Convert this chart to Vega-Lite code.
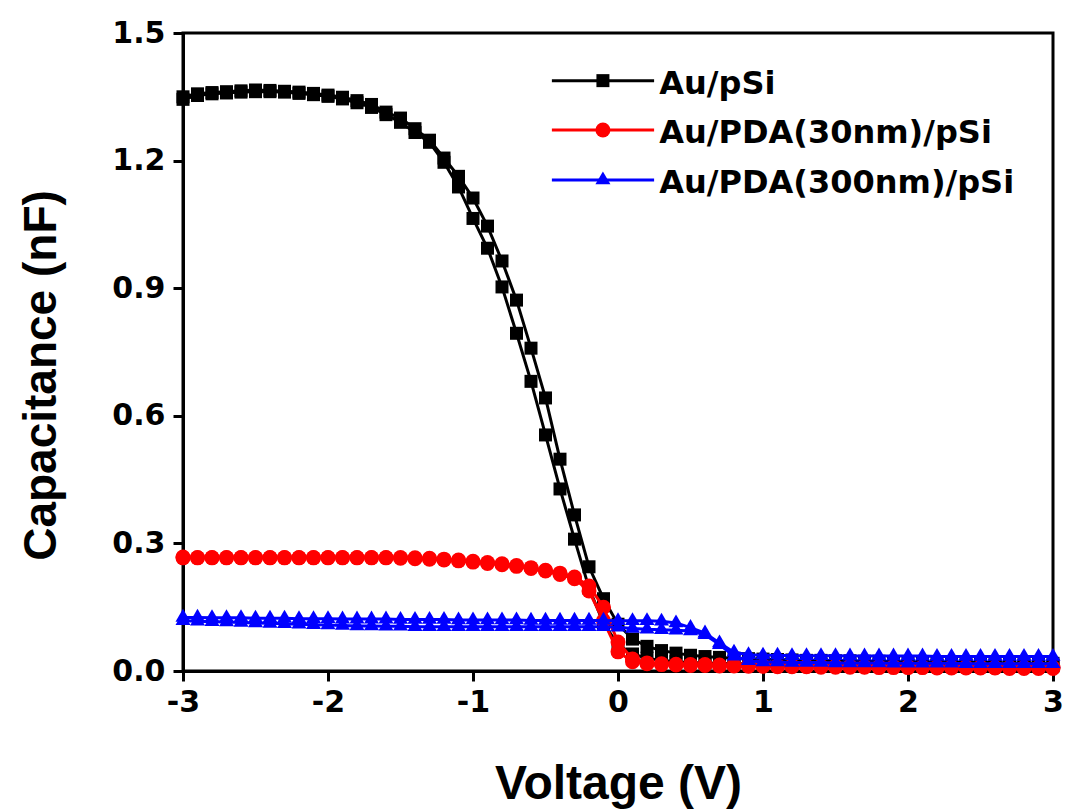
{
  "$schema": "https://vega.github.io/schema/vega-lite/v6.json",
  "width": 870,
  "height": 638,
  "autosize": {"type": "none"},
  "padding": {"left": 183, "top": 33, "right": 13, "bottom": 141},
  "background": "white",
  "config": {
    "view": {"stroke": "#000000", "strokeWidth": 3},
    "axis": {"domainColor": "#000000", "domainWidth": 3, "tickColor": "#000000", "tickWidth": 3, "tickSize": 10, "grid": false, "labelColor": "#000000", "labelFont": "DejaVu Sans", "labelFontWeight": "bold", "labelFontSize": 30, "titleColor": "#000000", "titleFont": "Liberation Sans", "titleFontWeight": "bold", "labelFlush": false, "labelOverlap": false},
    "axisX": {"labelPadding": 6, "titleFontSize": 48, "titleY": 127, "titleBaseline": "alphabetic"},
    "axisY": {"labelPadding": 8, "titleFontSize": 46, "titleX": -128, "titleY": 342, "titleAngle": -90, "titleBaseline": "alphabetic"}
  },
  "datasets": {
    "black": [
      {"b":"f","v":-3.0,"c":1.350},{"b":"f","v":-2.9,"c":1.357},{"b":"f","v":-2.8,"c":1.360},{"b":"f","v":-2.7,"c":1.362},{"b":"f","v":-2.6,"c":1.364},{"b":"f","v":-2.5,"c":1.366},{"b":"f","v":-2.4,"c":1.365},{"b":"f","v":-2.3,"c":1.363},{"b":"f","v":-2.2,"c":1.361},{"b":"f","v":-2.1,"c":1.358},{"b":"f","v":-2.0,"c":1.354},{"b":"f","v":-1.9,"c":1.349},{"b":"f","v":-1.8,"c":1.341},{"b":"f","v":-1.7,"c":1.332},{"b":"f","v":-1.6,"c":1.314},{"b":"f","v":-1.5,"c":1.300},{"b":"f","v":-1.4,"c":1.275},{"b":"f","v":-1.3,"c":1.248},{"b":"f","v":-1.2,"c":1.206},{"b":"f","v":-1.1,"c":1.163},{"b":"f","v":-1.0,"c":1.112},{"b":"f","v":-0.9,"c":1.046},{"b":"f","v":-0.8,"c":0.964},{"b":"f","v":-0.7,"c":0.872},{"b":"f","v":-0.6,"c":0.759},{"b":"f","v":-0.5,"c":0.642},{"b":"f","v":-0.4,"c":0.498},{"b":"f","v":-0.3,"c":0.367},{"b":"f","v":-0.2,"c":0.245},{"b":"f","v":-0.1,"c":0.170},{"b":"f","v":0.0,"c":0.110},{"b":"f","v":0.1,"c":0.075},{"b":"f","v":0.2,"c":0.058},{"b":"f","v":0.3,"c":0.048},{"b":"f","v":0.4,"c":0.042},{"b":"f","v":0.5,"c":0.037},{"b":"f","v":0.6,"c":0.034},{"b":"f","v":0.7,"c":0.032},{"b":"f","v":0.8,"c":0.030},{"b":"f","v":0.9,"c":0.029},{"b":"f","v":1.0,"c":0.028},{"b":"f","v":1.1,"c":0.027},{"b":"f","v":1.2,"c":0.026},{"b":"f","v":1.3,"c":0.025},{"b":"f","v":1.4,"c":0.025},{"b":"f","v":1.5,"c":0.024},{"b":"f","v":1.6,"c":0.024},{"b":"f","v":1.7,"c":0.023},{"b":"f","v":1.8,"c":0.023},{"b":"f","v":1.9,"c":0.022},{"b":"f","v":2.0,"c":0.022},{"b":"f","v":2.1,"c":0.021},{"b":"f","v":2.2,"c":0.021},{"b":"f","v":2.3,"c":0.021},{"b":"f","v":2.4,"c":0.020},{"b":"f","v":2.5,"c":0.020},{"b":"f","v":2.6,"c":0.020},{"b":"f","v":2.7,"c":0.019},{"b":"f","v":2.8,"c":0.019},{"b":"f","v":2.9,"c":0.019},{"b":"f","v":3.0,"c":0.018},
      {"b":"r","v":-3.0,"c":1.344},{"b":"r","v":-2.9,"c":1.353},{"b":"r","v":-2.8,"c":1.357},{"b":"r","v":-2.7,"c":1.359},{"b":"r","v":-2.6,"c":1.361},{"b":"r","v":-2.5,"c":1.362},{"b":"r","v":-2.4,"c":1.362},{"b":"r","v":-2.3,"c":1.361},{"b":"r","v":-2.2,"c":1.358},{"b":"r","v":-2.1,"c":1.355},{"b":"r","v":-2.0,"c":1.351},{"b":"r","v":-1.9,"c":1.345},{"b":"r","v":-1.8,"c":1.336},{"b":"r","v":-1.7,"c":1.325},{"b":"r","v":-1.6,"c":1.308},{"b":"r","v":-1.5,"c":1.290},{"b":"r","v":-1.4,"c":1.266},{"b":"r","v":-1.3,"c":1.243},{"b":"r","v":-1.2,"c":1.196},{"b":"r","v":-1.1,"c":1.138},{"b":"r","v":-1.0,"c":1.064},{"b":"r","v":-0.9,"c":0.994},{"b":"r","v":-0.8,"c":0.903},{"b":"r","v":-0.7,"c":0.794},{"b":"r","v":-0.6,"c":0.681},{"b":"r","v":-0.5,"c":0.555},{"b":"r","v":-0.4,"c":0.428},{"b":"r","v":-0.3,"c":0.310},{"b":"r","v":-0.2,"c":0.195},{"b":"r","v":-0.1,"c":0.112},{"b":"r","v":0.0,"c":0.062},{"b":"r","v":0.1,"c":0.040},{"b":"r","v":0.2,"c":0.030},{"b":"r","v":0.3,"c":0.025},{"b":"r","v":0.4,"c":0.022},{"b":"r","v":0.5,"c":0.020},{"b":"r","v":0.6,"c":0.019},{"b":"r","v":0.7,"c":0.018},{"b":"r","v":0.8,"c":0.017},{"b":"r","v":0.9,"c":0.017},{"b":"r","v":1.0,"c":0.016},{"b":"r","v":1.1,"c":0.016},{"b":"r","v":1.2,"c":0.016},{"b":"r","v":1.3,"c":0.015},{"b":"r","v":1.4,"c":0.015},{"b":"r","v":1.5,"c":0.015},{"b":"r","v":1.6,"c":0.014},{"b":"r","v":1.7,"c":0.014},{"b":"r","v":1.8,"c":0.014},{"b":"r","v":1.9,"c":0.014},{"b":"r","v":2.0,"c":0.013},{"b":"r","v":2.1,"c":0.013},{"b":"r","v":2.2,"c":0.013},{"b":"r","v":2.3,"c":0.013},{"b":"r","v":2.4,"c":0.013},{"b":"r","v":2.5,"c":0.012},{"b":"r","v":2.6,"c":0.012},{"b":"r","v":2.7,"c":0.012},{"b":"r","v":2.8,"c":0.012},{"b":"r","v":2.9,"c":0.012},{"b":"r","v":3.0,"c":0.012}
    ],
    "red": [
      {"b":"f","v":-3.0,"c":0.268},{"b":"f","v":-2.9,"c":0.267},{"b":"f","v":-2.8,"c":0.267},{"b":"f","v":-2.7,"c":0.267},{"b":"f","v":-2.6,"c":0.267},{"b":"f","v":-2.5,"c":0.267},{"b":"f","v":-2.4,"c":0.267},{"b":"f","v":-2.3,"c":0.267},{"b":"f","v":-2.2,"c":0.267},{"b":"f","v":-2.1,"c":0.267},{"b":"f","v":-2.0,"c":0.267},{"b":"f","v":-1.9,"c":0.267},{"b":"f","v":-1.8,"c":0.267},{"b":"f","v":-1.7,"c":0.267},{"b":"f","v":-1.6,"c":0.267},{"b":"f","v":-1.5,"c":0.267},{"b":"f","v":-1.4,"c":0.266},{"b":"f","v":-1.3,"c":0.265},{"b":"f","v":-1.2,"c":0.263},{"b":"f","v":-1.1,"c":0.261},{"b":"f","v":-1.0,"c":0.258},{"b":"f","v":-0.9,"c":0.255},{"b":"f","v":-0.8,"c":0.252},{"b":"f","v":-0.7,"c":0.248},{"b":"f","v":-0.6,"c":0.243},{"b":"f","v":-0.5,"c":0.237},{"b":"f","v":-0.4,"c":0.230},{"b":"f","v":-0.3,"c":0.221},{"b":"f","v":-0.2,"c":0.200},{"b":"f","v":-0.1,"c":0.150},{"b":"f","v":0.0,"c":0.068},{"b":"f","v":0.1,"c":0.028},{"b":"f","v":0.2,"c":0.019},{"b":"f","v":0.3,"c":0.017},{"b":"f","v":0.4,"c":0.016},{"b":"f","v":0.5,"c":0.015},{"b":"f","v":0.6,"c":0.015},{"b":"f","v":0.7,"c":0.014},{"b":"f","v":0.8,"c":0.013},{"b":"f","v":0.9,"c":0.013},{"b":"f","v":1.0,"c":0.012},{"b":"f","v":1.1,"c":0.012},{"b":"f","v":1.2,"c":0.012},{"b":"f","v":1.3,"c":0.011},{"b":"f","v":1.4,"c":0.011},{"b":"f","v":1.5,"c":0.011},{"b":"f","v":1.6,"c":0.011},{"b":"f","v":1.7,"c":0.010},{"b":"f","v":1.8,"c":0.010},{"b":"f","v":1.9,"c":0.010},{"b":"f","v":2.0,"c":0.010},{"b":"f","v":2.1,"c":0.009},{"b":"f","v":2.2,"c":0.009},{"b":"f","v":2.3,"c":0.009},{"b":"f","v":2.4,"c":0.009},{"b":"f","v":2.5,"c":0.009},{"b":"f","v":2.6,"c":0.008},{"b":"f","v":2.7,"c":0.008},{"b":"f","v":2.8,"c":0.008},{"b":"f","v":2.9,"c":0.008},{"b":"f","v":3.0,"c":0.008},
      {"b":"r","v":-3.0,"c":0.266},{"b":"r","v":-2.9,"c":0.266},{"b":"r","v":-2.8,"c":0.266},{"b":"r","v":-2.7,"c":0.266},{"b":"r","v":-2.6,"c":0.266},{"b":"r","v":-2.5,"c":0.266},{"b":"r","v":-2.4,"c":0.266},{"b":"r","v":-2.3,"c":0.266},{"b":"r","v":-2.2,"c":0.266},{"b":"r","v":-2.1,"c":0.266},{"b":"r","v":-2.0,"c":0.266},{"b":"r","v":-1.9,"c":0.266},{"b":"r","v":-1.8,"c":0.266},{"b":"r","v":-1.7,"c":0.266},{"b":"r","v":-1.6,"c":0.266},{"b":"r","v":-1.5,"c":0.265},{"b":"r","v":-1.4,"c":0.264},{"b":"r","v":-1.3,"c":0.263},{"b":"r","v":-1.2,"c":0.261},{"b":"r","v":-1.1,"c":0.259},{"b":"r","v":-1.0,"c":0.256},{"b":"r","v":-0.9,"c":0.253},{"b":"r","v":-0.8,"c":0.250},{"b":"r","v":-0.7,"c":0.246},{"b":"r","v":-0.6,"c":0.241},{"b":"r","v":-0.5,"c":0.235},{"b":"r","v":-0.4,"c":0.227},{"b":"r","v":-0.3,"c":0.217},{"b":"r","v":-0.2,"c":0.188},{"b":"r","v":-0.1,"c":0.118},{"b":"r","v":0.0,"c":0.045},{"b":"r","v":0.1,"c":0.022},{"b":"r","v":0.2,"c":0.017},{"b":"r","v":0.3,"c":0.015},{"b":"r","v":0.4,"c":0.014},{"b":"r","v":0.5,"c":0.013},{"b":"r","v":0.6,"c":0.013},{"b":"r","v":0.7,"c":0.012},{"b":"r","v":0.8,"c":0.012},{"b":"r","v":0.9,"c":0.011},{"b":"r","v":1.0,"c":0.011},{"b":"r","v":1.1,"c":0.010},{"b":"r","v":1.2,"c":0.010},{"b":"r","v":1.3,"c":0.010},{"b":"r","v":1.4,"c":0.009},{"b":"r","v":1.5,"c":0.009},{"b":"r","v":1.6,"c":0.009},{"b":"r","v":1.7,"c":0.009},{"b":"r","v":1.8,"c":0.008},{"b":"r","v":1.9,"c":0.008},{"b":"r","v":2.0,"c":0.008},{"b":"r","v":2.1,"c":0.008},{"b":"r","v":2.2,"c":0.007},{"b":"r","v":2.3,"c":0.007},{"b":"r","v":2.4,"c":0.007},{"b":"r","v":2.5,"c":0.007},{"b":"r","v":2.6,"c":0.007},{"b":"r","v":2.7,"c":0.006},{"b":"r","v":2.8,"c":0.006},{"b":"r","v":2.9,"c":0.006},{"b":"r","v":3.0,"c":0.006}
    ],
    "blue": [
      {"b":"f","v":-3.0,"c":0.126},{"b":"f","v":-2.9,"c":0.126},{"b":"f","v":-2.8,"c":0.125},{"b":"f","v":-2.7,"c":0.125},{"b":"f","v":-2.6,"c":0.125},{"b":"f","v":-2.5,"c":0.124},{"b":"f","v":-2.4,"c":0.124},{"b":"f","v":-2.3,"c":0.124},{"b":"f","v":-2.2,"c":0.123},{"b":"f","v":-2.1,"c":0.123},{"b":"f","v":-2.0,"c":0.123},{"b":"f","v":-1.9,"c":0.122},{"b":"f","v":-1.8,"c":0.122},{"b":"f","v":-1.7,"c":0.122},{"b":"f","v":-1.6,"c":0.122},{"b":"f","v":-1.5,"c":0.121},{"b":"f","v":-1.4,"c":0.121},{"b":"f","v":-1.3,"c":0.121},{"b":"f","v":-1.2,"c":0.121},{"b":"f","v":-1.1,"c":0.120},{"b":"f","v":-1.0,"c":0.120},{"b":"f","v":-0.9,"c":0.120},{"b":"f","v":-0.8,"c":0.120},{"b":"f","v":-0.7,"c":0.120},{"b":"f","v":-0.6,"c":0.119},{"b":"f","v":-0.5,"c":0.119},{"b":"f","v":-0.4,"c":0.119},{"b":"f","v":-0.3,"c":0.119},{"b":"f","v":-0.2,"c":0.119},{"b":"f","v":-0.1,"c":0.119},{"b":"f","v":0.0,"c":0.118},{"b":"f","v":0.1,"c":0.118},{"b":"f","v":0.2,"c":0.118},{"b":"f","v":0.3,"c":0.117},{"b":"f","v":0.4,"c":0.113},{"b":"f","v":0.5,"c":0.102},{"b":"f","v":0.6,"c":0.089},{"b":"f","v":0.7,"c":0.066},{"b":"f","v":0.8,"c":0.044},{"b":"f","v":0.9,"c":0.038},{"b":"f","v":1.0,"c":0.037},{"b":"f","v":1.1,"c":0.037},{"b":"f","v":1.2,"c":0.036},{"b":"f","v":1.3,"c":0.036},{"b":"f","v":1.4,"c":0.036},{"b":"f","v":1.5,"c":0.036},{"b":"f","v":1.6,"c":0.035},{"b":"f","v":1.7,"c":0.035},{"b":"f","v":1.8,"c":0.035},{"b":"f","v":1.9,"c":0.035},{"b":"f","v":2.0,"c":0.035},{"b":"f","v":2.1,"c":0.035},{"b":"f","v":2.2,"c":0.034},{"b":"f","v":2.3,"c":0.034},{"b":"f","v":2.4,"c":0.034},{"b":"f","v":2.5,"c":0.034},{"b":"f","v":2.6,"c":0.034},{"b":"f","v":2.7,"c":0.034},{"b":"f","v":2.8,"c":0.034},{"b":"f","v":2.9,"c":0.034},{"b":"f","v":3.0,"c":0.034},
      {"b":"r","v":-3.0,"c":0.118},{"b":"r","v":-2.9,"c":0.117},{"b":"r","v":-2.8,"c":0.116},{"b":"r","v":-2.7,"c":0.115},{"b":"r","v":-2.6,"c":0.114},{"b":"r","v":-2.5,"c":0.113},{"b":"r","v":-2.4,"c":0.112},{"b":"r","v":-2.3,"c":0.111},{"b":"r","v":-2.2,"c":0.110},{"b":"r","v":-2.1,"c":0.109},{"b":"r","v":-2.0,"c":0.108},{"b":"r","v":-1.9,"c":0.107},{"b":"r","v":-1.8,"c":0.106},{"b":"r","v":-1.7,"c":0.106},{"b":"r","v":-1.6,"c":0.105},{"b":"r","v":-1.5,"c":0.105},{"b":"r","v":-1.4,"c":0.104},{"b":"r","v":-1.3,"c":0.104},{"b":"r","v":-1.2,"c":0.104},{"b":"r","v":-1.1,"c":0.104},{"b":"r","v":-1.0,"c":0.104},{"b":"r","v":-0.9,"c":0.104},{"b":"r","v":-0.8,"c":0.104},{"b":"r","v":-0.7,"c":0.104},{"b":"r","v":-0.6,"c":0.104},{"b":"r","v":-0.5,"c":0.104},{"b":"r","v":-0.4,"c":0.104},{"b":"r","v":-0.3,"c":0.104},{"b":"r","v":-0.2,"c":0.104},{"b":"r","v":-0.1,"c":0.104},{"b":"r","v":0.0,"c":0.103},{"b":"r","v":0.1,"c":0.100},{"b":"r","v":0.2,"c":0.098},{"b":"r","v":0.3,"c":0.097},{"b":"r","v":0.4,"c":0.096},{"b":"r","v":0.5,"c":0.094},{"b":"r","v":0.6,"c":0.085},{"b":"r","v":0.7,"c":0.062},{"b":"r","v":0.8,"c":0.035},{"b":"r","v":0.9,"c":0.024},{"b":"r","v":1.0,"c":0.021},{"b":"r","v":1.1,"c":0.021},{"b":"r","v":1.2,"c":0.020},{"b":"r","v":1.3,"c":0.020},{"b":"r","v":1.4,"c":0.020},{"b":"r","v":1.5,"c":0.019},{"b":"r","v":1.6,"c":0.019},{"b":"r","v":1.7,"c":0.019},{"b":"r","v":1.8,"c":0.019},{"b":"r","v":1.9,"c":0.018},{"b":"r","v":2.0,"c":0.018},{"b":"r","v":2.1,"c":0.018},{"b":"r","v":2.2,"c":0.018},{"b":"r","v":2.3,"c":0.018},{"b":"r","v":2.4,"c":0.017},{"b":"r","v":2.5,"c":0.017},{"b":"r","v":2.6,"c":0.017},{"b":"r","v":2.7,"c":0.017},{"b":"r","v":2.8,"c":0.017},{"b":"r","v":2.9,"c":0.017},{"b":"r","v":3.0,"c":0.017}
    ],
    "legend": [
      {"s":"Au/pSi","x1":-0.456,"x2":0.249,"xm":-0.104,"xt":0.285,"y":1.388},
      {"s":"Au/PDA(30nm)/pSi","x1":-0.456,"x2":0.249,"xm":-0.104,"xt":0.285,"y":1.272},
      {"s":"Au/PDA(300nm)/pSi","x1":-0.456,"x2":0.249,"xm":-0.104,"xt":0.285,"y":1.1545}
    ]
  },
  "layer": [
    {
      "data": {"name": "black"},
      "mark": {"type": "line", "color": "#000000", "strokeWidth": 3},
      "encoding": {
        "x": {"field": "v", "type": "quantitative", "title": "Voltage (V)", "scale": {"domain": [-3, 3], "nice": false, "zero": false}, "axis": {"values": [-3, -2, -1, 0, 1, 2, 3], "labelExpr": "toString(datum.value)"}},
        "y": {"field": "c", "type": "quantitative", "title": "Capacitance (nF)", "scale": {"domain": [0, 1.5], "nice": false, "zero": false}, "axis": {"values": [0, 0.3, 0.6, 0.9, 1.2, 1.5], "format": ".1f"}},
        "detail": {"field": "b"}
      }
    },
    {
      "data": {"name": "black"},
      "mark": {"type": "point", "shape": "square", "filled": true, "size": 169, "color": "#000000", "opacity": 1},
      "encoding": {
        "x": {"field": "v", "type": "quantitative", "title": "Voltage (V)"},
        "y": {"field": "c", "type": "quantitative", "title": "Capacitance (nF)"}
      }
    },
    {
      "data": {"name": "red"},
      "mark": {"type": "line", "color": "#FF0000", "strokeWidth": 3},
      "encoding": {
        "x": {"field": "v", "type": "quantitative", "title": "Voltage (V)"},
        "y": {"field": "c", "type": "quantitative", "title": "Capacitance (nF)"},
        "detail": {"field": "b"}
      }
    },
    {
      "data": {"name": "red"},
      "mark": {"type": "point", "shape": "circle", "filled": true, "size": 225, "color": "#FF0000", "opacity": 1},
      "encoding": {
        "x": {"field": "v", "type": "quantitative", "title": "Voltage (V)"},
        "y": {"field": "c", "type": "quantitative", "title": "Capacitance (nF)"}
      }
    },
    {
      "data": {"name": "blue"},
      "mark": {"type": "line", "color": "#0000FF", "strokeWidth": 3},
      "encoding": {
        "x": {"field": "v", "type": "quantitative", "title": "Voltage (V)"},
        "y": {"field": "c", "type": "quantitative", "title": "Capacitance (nF)"},
        "detail": {"field": "b"}
      }
    },
    {
      "data": {"name": "blue"},
      "mark": {"type": "point", "shape": "M0,-1.14L1,0.57L-1,0.57Z", "filled": true, "size": 225, "color": "#0000FF", "opacity": 1},
      "encoding": {
        "x": {"field": "v", "type": "quantitative", "title": "Voltage (V)"},
        "y": {"field": "c", "type": "quantitative", "title": "Capacitance (nF)"}
      }
    },
    {
      "data": {"name": "legend"},
      "mark": {"type": "rule", "strokeWidth": 3},
      "encoding": {
        "x": {"field": "x1", "type": "quantitative", "title": "Voltage (V)"},
        "x2": {"field": "x2"},
        "y": {"field": "y", "type": "quantitative", "title": "Capacitance (nF)"},
        "color": {"field": "s", "type": "nominal", "legend": null, "scale": {"domain": ["Au/pSi", "Au/PDA(30nm)/pSi", "Au/PDA(300nm)/pSi"], "range": ["#000000", "#FF0000", "#0000FF"]}}
      }
    },
    {
      "data": {"name": "legend"},
      "transform": [{"filter": {"field": "s", "equal": "Au/pSi"}}],
      "mark": {"type": "point", "shape": "square", "filled": true, "size": 169, "color": "#000000", "opacity": 1},
      "encoding": {
        "x": {"field": "xm", "type": "quantitative", "title": "Voltage (V)"},
        "y": {"field": "y", "type": "quantitative", "title": "Capacitance (nF)"}
      }
    },
    {
      "data": {"name": "legend"},
      "transform": [{"filter": {"field": "s", "equal": "Au/PDA(30nm)/pSi"}}],
      "mark": {"type": "point", "shape": "circle", "filled": true, "size": 225, "color": "#FF0000", "opacity": 1},
      "encoding": {
        "x": {"field": "xm", "type": "quantitative", "title": "Voltage (V)"},
        "y": {"field": "y", "type": "quantitative", "title": "Capacitance (nF)"}
      }
    },
    {
      "data": {"name": "legend"},
      "transform": [{"filter": {"field": "s", "equal": "Au/PDA(300nm)/pSi"}}],
      "mark": {"type": "point", "shape": "M0,-1.14L1,0.57L-1,0.57Z", "filled": true, "size": 225, "color": "#0000FF", "opacity": 1},
      "encoding": {
        "x": {"field": "xm", "type": "quantitative", "title": "Voltage (V)"},
        "y": {"field": "y", "type": "quantitative", "title": "Capacitance (nF)"}
      }
    },
    {
      "data": {"name": "legend"},
      "mark": {"type": "text", "align": "left", "baseline": "alphabetic", "dy": 13, "font": "DejaVu Sans", "fontWeight": "bold", "fontSize": 32, "color": "#000000"},
      "encoding": {
        "x": {"field": "xt", "type": "quantitative", "title": "Voltage (V)"},
        "y": {"field": "y", "type": "quantitative", "title": "Capacitance (nF)"},
        "text": {"field": "s"}
      }
    }
  ]
}
